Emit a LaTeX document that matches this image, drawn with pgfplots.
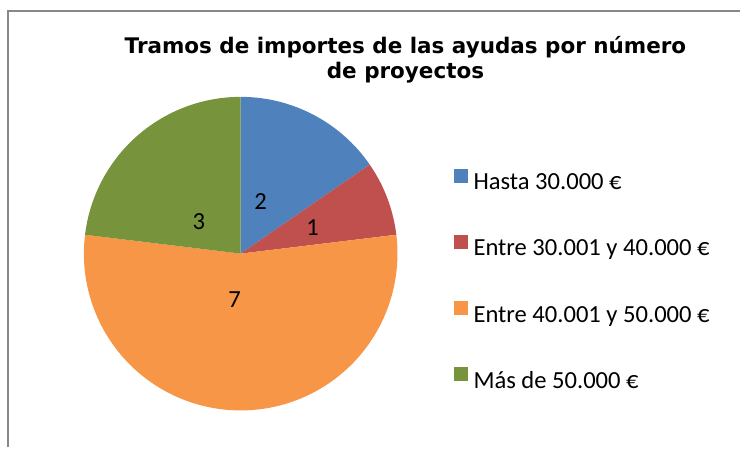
\documentclass[border=0pt]{standalone}
\usepackage{pgfplots}
\pgfplotsset{compat=1.18}
\usepackage{pgfplotstable}
\usepackage{fontspec}
\setmainfont{Carlito}
\newfontfamily\titlefont{DejaVu Sans}
\definecolor{cBlue}{HTML}{4F81BD}
\definecolor{cRed}{HTML}{C0504D}
\definecolor{cOrange}{HTML}{F79646}
\definecolor{cGreen}{HTML}{77933C}
\definecolor{frameGray}{HTML}{888888}

\pgfplotstableread{
label value
A 2
B 1
C 7
D 3
}\piedata
\pgfplotstablegetelem{0}{value}\of\piedata \let\vA\pgfplotsretval
\pgfplotstablegetelem{1}{value}\of\piedata \let\vB\pgfplotsretval
\pgfplotstablegetelem{2}{value}\of\piedata \let\vC\pgfplotsretval
\pgfplotstablegetelem{3}{value}\of\piedata \let\vD\pgfplotsretval
\pgfmathsetmacro\tot{\vA+\vB+\vC+\vD}
\pgfmathsetmacro\aA{360*\vA/\tot}
\pgfmathsetmacro\aB{\aA+360*\vB/\tot}
\pgfmathsetmacro\aC{\aB+360*\vC/\tot}
\pgfmathsetmacro\aD{\aC+360*\vD/\tot}

\begin{document}
\begin{tikzpicture}
\begin{axis}[
  x=1pt, y=1pt, xmin=0, xmax=741, ymin=0, ymax=448,
  scale only axis, hide axis, clip=false,
  legend cell align=left,
  legend image code/.code={\fill[#1] (0pt,0pt) rectangle (14pt,13.5pt); \path (20pt,0pt);},
  legend style={
    draw=none, fill=none, inner sep=0pt,
    at={(axis cs:454,168)}, anchor=west,
    nodes={inner sep=0pt, font=\fontsize{24.6}{28}\selectfont},
    row sep=44pt,
  },
]
\draw[draw=none] (axis cs:0,0) rectangle (axis cs:741,448);
\draw[frameGray, line width=2pt] (axis cs:8,0) -- (axis cs:8,437) -- (axis cs:741,437);

\addplot[fill=cBlue, draw=none, domain=0:\aA, samples=60]
  ({241+157*sin(x)},{194+157*cos(x)}) -- (axis cs:241,194) -- cycle;
\addlegendentry{Hasta 30.000 €}
\addplot[fill=cRed, draw=none, domain=\aA:\aB, samples=30]
  ({241+157*sin(x)},{194+157*cos(x)}) -- (axis cs:241,194) -- cycle;
\addlegendentry{Entre 30.001 y 40.000 €}
\addplot[fill=cOrange, draw=none, domain=\aB:\aC, samples=150]
  ({241+157*sin(x)},{194+157*cos(x)}) -- (axis cs:241,194) -- cycle;
\addlegendentry{Entre 40.001 y 50.000 €}
\addplot[fill=cGreen, draw=none, domain=\aC:\aD, samples=80]
  ({241+157*sin(x)},{194+157*cos(x)}) -- (axis cs:241,194) -- cycle;
\addlegendentry{Más de 50.000 €}

\node[font=\fontsize{24.6}{28}\selectfont] at (axis cs:261,246) {\vA};
\node[font=\fontsize{24.6}{28}\selectfont] at (axis cs:313,220) {\vB};
\node[font=\fontsize{24.6}{28}\selectfont] at (axis cs:235,148) {\vC};
\node[font=\fontsize{24.6}{28}\selectfont] at (axis cs:199,226) {\vD};

\node[align=center, font=\titlefont\bfseries\fontsize{21.5}{25}\selectfont]
  at (axis cs:406,388) {Tramos de importes de las ayudas por número\\de proyectos};
\end{axis}
\end{tikzpicture}
\end{document}
